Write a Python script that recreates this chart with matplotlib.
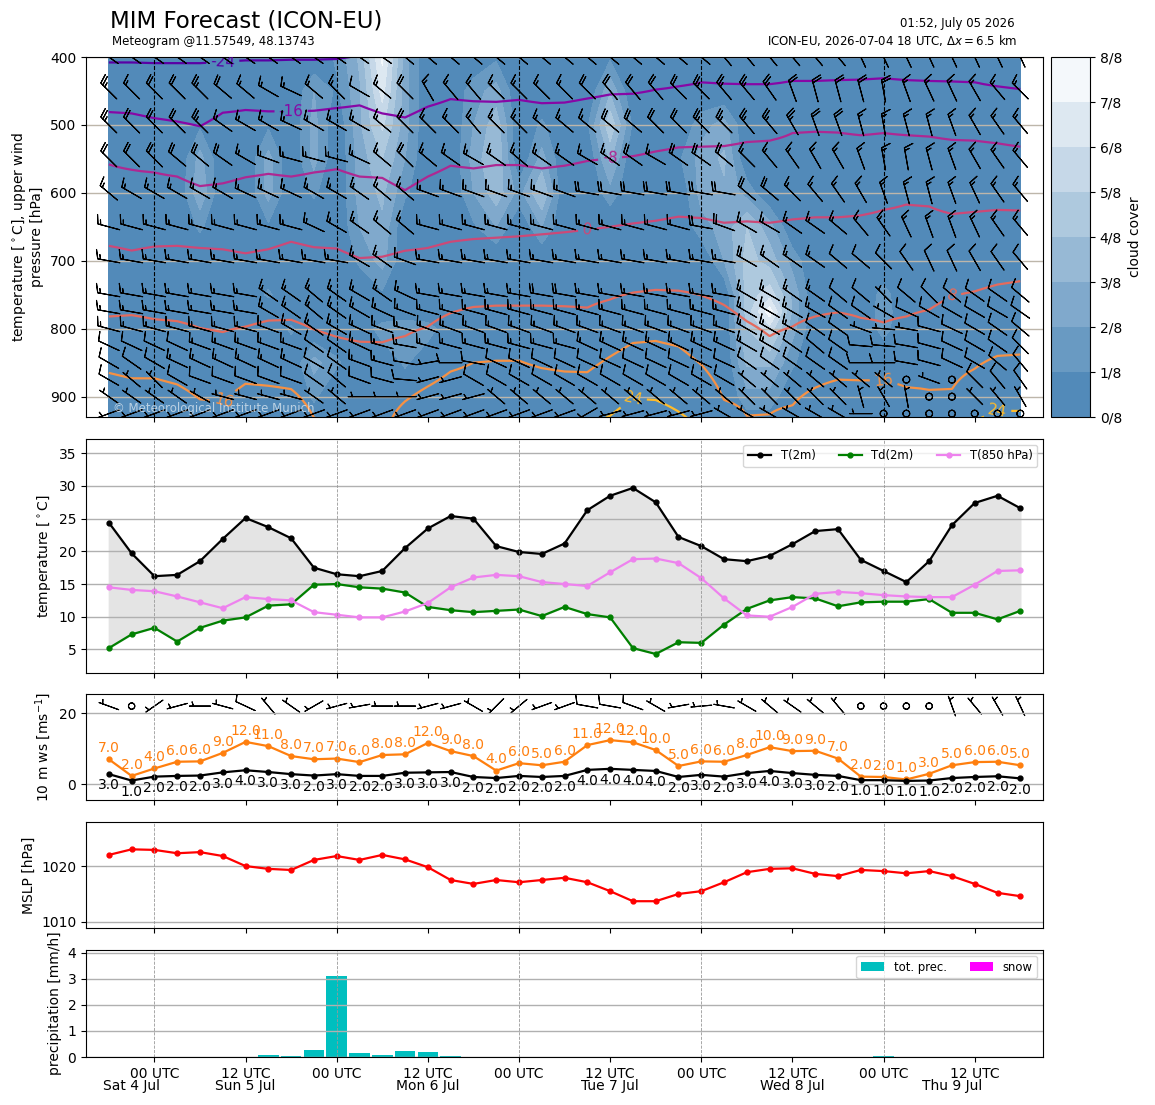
#!/usr/bin/env python3
"""
Meteogram: MIM forecast, ICON-EU
"""

import numpy as np
import matplotlib
matplotlib.use("Agg")
import matplotlib.pyplot as plt
from matplotlib.colors import LinearSegmentedColormap, Normalize

# forecast hours since 2026-07-04 18 UTC, 3-hourly
hours = np.arange(0, 121, 3)

# ---- surface series ----
t2m = [24.4, 19.7, 16.2, 16.4, 18.5, 21.9, 25.1, 23.7, 22.0, 17.5,
       16.5, 16.2, 17.0, 20.5, 23.5, 25.4, 25.0, 20.8, 19.9, 19.6,
       21.2, 26.3, 28.5, 29.7, 27.5, 22.2, 20.8, 18.8, 18.5, 19.3,
       21.1, 23.1, 23.4, 18.7, 17.0, 15.3, 18.5, 24.0, 27.4, 28.5, 26.6]
td2m = [5.2, 7.3, 8.3, 6.2, 8.3, 9.4, 9.9, 11.7, 11.9, 14.9,
        15.0, 14.5, 14.3, 13.7, 11.5, 11.0, 10.7, 10.9, 11.1, 10.1,
        11.5, 10.4, 9.9, 5.2, 4.3, 6.1, 6.0, 8.8, 11.2, 12.5,
        13.0, 12.8, 11.6, 12.2, 12.3, 12.3, 12.7, 10.6, 10.6, 9.6, 10.9]
t850 = [14.5, 14.1, 13.9, 13.1, 12.2, 11.3, 13.0, 12.7, 12.5, 10.7,
        10.3, 9.9, 9.9, 10.8, 12.1, 14.5, 16.0, 16.4, 16.2, 15.3,
        15.0, 14.7, 16.8, 18.8, 18.9, 18.2, 15.9, 12.8, 10.2, 10.0,
        11.5, 13.5, 13.8, 13.6, 13.3, 13.1, 13.0, 13.0, 14.9, 17.0, 17.1]
ws10 = [2.8, 1.0, 2.1, 2.3, 2.4, 3.3, 3.9, 3.4, 2.8, 2.4,
        2.8, 2.3, 2.3, 3.2, 3.3, 3.4, 2.0, 1.7, 2.3, 2.0,
        2.3, 4.0, 4.3, 4.0, 3.7, 2.0, 2.6, 2.1, 3.1, 3.7,
        3.1, 2.6, 2.3, 1.1, 1.1, 0.9, 1.0, 1.7, 2.0, 2.2, 1.6]
gust10 = [7.0, 2.3, 4.4, 6.3, 6.4, 8.8, 11.9, 10.7, 7.9, 7.0,
          7.2, 6.2, 8.2, 8.4, 11.6, 9.3, 7.9, 3.8, 5.9, 5.3,
          6.3, 11.0, 12.4, 11.8, 9.6, 5.1, 6.4, 6.3, 8.2, 10.4,
          9.3, 9.4, 7.2, 2.1, 2.0, 1.3, 2.9, 5.3, 6.2, 6.3, 5.3]
dir10 = [290, 0, 235, 255, 270, 285, 295, 320, 305, 240,
         255, 260, 270, 270, 255, 255, 300, 225, 230, 250,
         250, 280, 280, 290, 300, 260, 265, 280, 300, 310,
         305, 310, 320, 0, 0, 0, 0, 340, 320, 330, 335]
mslp = [1022.0, 1023.0, 1022.9, 1022.3, 1022.5, 1021.8, 1020.0, 1019.5, 1019.3, 1021.1,
        1021.8, 1021.1, 1022.0, 1021.2, 1019.8, 1017.5, 1016.8, 1017.5, 1017.1, 1017.5,
        1017.9, 1017.1, 1015.5, 1013.7, 1013.7, 1015.0, 1015.5, 1017.1, 1018.9, 1019.5,
        1019.6, 1018.6, 1018.2, 1019.3, 1019.1, 1018.7, 1019.1, 1018.2, 1016.8, 1015.2, 1014.6]
precip = [0, 0, 0, 0, 0, 0, 0, 0.06, 0.03, 0.26,
          3.10, 0.14, 0.06, 0.22, 0.18, 0.03, 0, 0, 0, 0,
          0, 0, 0, 0, 0, 0, 0, 0, 0, 0,
          0, 0, 0, 0, 0.03, 0, 0, 0, 0, 0, 0]
snow = [0] * 41

# ---- upper air: isotherm pressures [hPa] per time ----
iso_temps = [-24, -16, -8, 0, 8, 16, 24]
p_m24 = [408, 408, 409, 409, 409, 407, 405, 405, 404, 404, 403, 398, 392, 388, 386, 385, 385,
         385, 385, 385, 385, 385, 385, 385, 385, 385, 385, 385, 385, 385, 385, 385, 385, 385,
         385, 385, 385, 385, 385, 385, 385]
p_m16 = [481, 483, 490, 495, 502, 482, 478, 480, 480, 479,
         475, 471, 483, 489, 473, 462, 465, 466, 463, 468,
         467, 461, 455, 454, 448, 443, 437, 439, 440, 440,
         435, 435, 434, 433, 431, 434, 435, 436, 437, 443, 447]
p_m8 = [558, 566, 570, 576, 590, 586, 577, 572, 576, 570,
        565, 576, 578, 596, 576, 560, 564, 559, 559, 564,
        560, 553, 549, 546, 539, 533, 532, 531, 525, 523,
        512, 510, 511, 515, 512, 515, 517, 522, 523, 527, 532]
p_0 = [678, 685, 679, 678, 681, 683, 689, 683, 672, 680,
       682, 696, 694, 685, 681, 672, 668, 666, 664, 661,
       658, 654, 650, 645, 641, 635, 637, 644, 642, 644,
       639, 636, 636, 633, 625, 617, 620, 631, 628, 625, 626]
p_8 = [782, 780, 786, 789, 799, 805, 797, 788, 787, 801,
       812, 819, 820, 811, 797, 777, 768, 766, 766, 766,
       767, 769, 757, 747, 743, 744, 751, 765, 789, 811,
       797, 782, 776, 784, 791, 782, 772, 752, 745, 735, 730]
p_16 = [865, 873, 873, 882, 904, 907, 881, 884, 889, 931,
        960, 975, 973, 907, 885, 863, 850, 847, 847, 858,
        863, 864, 841, 821, 818, 826, 853, 905, 928, 926,
        913, 887, 875, 876, 876, 886, 890, 889, 859, 840, 838]
p_24 = [960, 965, 965, 970, 975, 975, 970, 970, 970, 975,
        990, 1000, 1000, 975, 970, 965, 960, 955, 955, 960,
        955, 945, 928, 903, 905, 922, 950, 965, 975, 975,
        970, 960, 955, 955, 955, 960, 960, 955, 935, 921, 921]

# ---- upper air: cloud cover (time index, level, fraction), zero elsewhere ----
cloud_levels = [400, 450, 500, 550, 600, 650, 700, 750, 775, 800, 850, 900, 950]
cloud_cells = [
    (4, 500, 0.10), (4, 550, 0.30), (4, 600, 0.35), (4, 650, 0.15),
    (7, 500, 0.10), (7, 550, 0.30), (7, 600, 0.30), (7, 650, 0.10), (7, 750, 0.15),
    (8, 800, 0.15),
    (9, 450, 0.25), (9, 500, 0.30), (9, 550, 0.30), (9, 600, 0.15), (9, 850, 0.30), (9, 900, 0.15),
    (10, 400, 0.15), (10, 450, 0.10), (10, 850, 0.15),
    (11, 400, 0.40), (11, 450, 0.35), (11, 500, 0.35), (11, 550, 0.30), (11, 600, 0.30),
    (11, 650, 0.25), (11, 700, 0.15),
    (12, 400, 0.90), (12, 450, 0.80), (12, 500, 0.65), (12, 550, 0.50), (12, 600, 0.40),
    (12, 650, 0.35), (12, 700, 0.30), (12, 750, 0.10), (12, 800, 0.20),
    (13, 400, 0.30), (13, 450, 0.30), (13, 500, 0.30), (13, 550, 0.25), (13, 600, 0.15),
    (13, 800, 0.25), (13, 850, 0.15),
    (14, 800, 0.20),
    (16, 450, 0.20), (16, 500, 0.25), (16, 550, 0.30), (16, 600, 0.25), (16, 650, 0.10),
    (17, 400, 0.10), (17, 450, 0.30), (17, 500, 0.45), (17, 550, 0.50), (17, 600, 0.45), (17, 650, 0.25),
    (18, 600, 0.20),
    (19, 500, 0.15), (19, 550, 0.30), (19, 600, 0.50), (19, 650, 0.25),
    (21, 500, 0.10),
    (22, 400, 0.10), (22, 450, 0.35), (22, 500, 0.60), (22, 550, 0.40), (22, 600, 0.20),
    (23, 500, 0.10),
    (25, 550, 0.10),
    (26, 500, 0.20), (26, 550, 0.30), (26, 600, 0.30), (26, 650, 0.20),
    (27, 500, 0.30), (27, 550, 0.40), (27, 600, 0.35), (27, 650, 0.30), (27, 700, 0.25),
    (28, 600, 0.20), (28, 650, 0.50), (28, 700, 0.55), (28, 750, 0.55), (28, 775, 0.55),
    (28, 800, 0.50), (28, 850, 0.40), (28, 900, 0.20),
    (29, 650, 0.30), (29, 700, 0.45), (29, 750, 0.70), (29, 775, 0.95), (29, 800, 0.70),
    (29, 850, 0.40), (29, 900, 0.20),
    (30, 700, 0.20), (30, 750, 0.35), (30, 775, 0.35), (30, 800, 0.30), (30, 850, 0.15),
    (34, 750, 0.18), (34, 775, 0.20), (34, 800, 0.18),
]

# ---- upper air: wind direction [deg] and speed [kt] per level ----
wind_levels = [400, 450, 500, 550, 600, 650, 700, 750, 775, 800, 825, 850, 875, 900, 925]
wind_dir = [
    [305, 305, 305, 305, 305, 305, 305, 305, 305, 305, 305, 305, 305, 310, 310, 310, 310, 310, 310, 310, 310,
     310, 310, 310, 310, 310, 310, 320, 320, 320, 320, 320, 320, 335, 335, 335, 335, 335, 335, 335, 335],
    [315, 315, 315, 315, 315, 310, 310, 300, 295, 310, 315, 300, 310, 315, 330, 320, 320, 315, 315, 315, 315,
     315, 320, 320, 320, 315, 315, 320, 320, 325, 340, 345, 345, 345, 350, 340, 335, 335, 330, 320, 315],
    [315, 315, 315, 315, 315, 305, 300, 300, 295, 300, 300, 300, 310, 315, 315, 315, 320, 315, 315, 310, 310,
     310, 310, 310, 315, 315, 315, 315, 320, 320, 330, 340, 340, 345, 350, 345, 345, 340, 330, 325, 320],
    [315, 315, 315, 310, 310, 305, 300, 290, 285, 285, 285, 295, 310, 315, 310, 305, 300, 305, 310, 305, 305,
     300, 305, 305, 300, 305, 305, 310, 315, 320, 325, 330, 330, 340, 350, 350, 345, 340, 330, 325, 320],
    [310, 300, 300, 300, 300, 300, 295, 295, 295, 300, 300, 305, 310, 310, 290, 290, 290, 290, 290, 290, 290,
     280, 280, 280, 280, 280, 280, 280, 310, 310, 315, 320, 325, 330, 340, 345, 345, 340, 335, 325, 320],
    [285, 285, 285, 285, 285, 285, 285, 285, 285, 295, 300, 305, 310, 310, 285, 285, 285, 285, 285, 285, 285,
     285, 285, 285, 285, 285, 280, 290, 300, 300, 305, 305, 310, 320, 325, 335, 340, 340, 335, 325, 320],
    [280, 280, 280, 280, 280, 280, 280, 280, 280, 280, 280, 300, 305, 290, 280, 280, 280, 280, 280, 280, 280,
     280, 280, 280, 280, 280, 280, 280, 300, 305, 305, 305, 310, 310, 315, 325, 335, 335, 330, 325, 320],
    [280, 280, 280, 280, 280, 280, 280, 305, 305, 310, 305, 300, 305, 295, 280, 280, 280, 280, 280, 280, 280,
     280, 280, 280, 280, 280, 280, 280, 300, 300, 305, 305, 310, 310, 315, 310, 315, 310, 305, 305, 310],
    [280, 280, 280, 280, 280, 280, 280, 300, 305, 310, 305, 300, 295, 290, 285, 285, 285, 285, 285, 285, 285,
     285, 285, 285, 285, 285, 285, 285, 300, 300, 300, 300, 305, 305, 300, 295, 300, 300, 300, 300, 305],
    [285, 285, 285, 285, 285, 285, 285, 290, 300, 305, 300, 295, 290, 285, 290, 290, 290, 290, 290, 290, 290,
     290, 290, 290, 290, 290, 290, 290, 300, 300, 300, 305, 305, 290, 275, 280, 285, 295, 300, 305, 310],
    [295, 295, 295, 295, 290, 290, 290, 290, 290, 305, 305, 295, 285, 280, 285, 285, 285, 285, 285, 285, 285,
     295, 295, 295, 295, 295, 295, 295, 300, 300, 305, 310, 305, 275, 275, 280, 285, 295, 300, 305, 315],
    [300, 305, 300, 295, 295, 295, 295, 295, 295, 300, 305, 290, 285, 280, 260, 270, 280, 295, 295, 295, 295,
     295, 295, 295, 295, 295, 295, 295, 305, 305, 305, 305, 305, 270, 270, 280, 285, 295, 300, 310, 320],
    [300, 310, 315, 300, 290, 290, 290, 290, 290, 305, 310, 290, 285, 275, 255, 255, 300, 300, 300, 300, 300,
     300, 300, 300, 300, 300, 300, 300, 310, 310, 310, 310, 310, 310, 310, 0, 290, 0, 315, 320, 325],
    [305, 305, 305, 305, 300, 285, 285, 285, 285, 305, 310, 270, 270, 270, 255, 255, 255, 310, 310, 310, 310,
     310, 310, 310, 310, 310, 310, 310, 315, 315, 315, 315, 315, 345, 330, 350, 0, 0, 315, 320, 330],
    [250, 250, 250, 250, 250, 250, 250, 250, 250, 250, 250, 250, 250, 250, 250, 250, 250, 250, 250, 250, 250,
     240, 255, 255, 255, 255, 255, 300, 300, 300, 300, 300, 300, 270, 0, 0, 0, 0, 0, 0, 0],
]
wind_spd = [
    [25, 25, 25, 25, 25, 25, 25, 25, 25, 20, 20, 20, 20, 20, 20, 20, 20, 20, 20, 20, 20,
     25, 25, 25, 25, 25, 25, 25, 25, 25, 25, 25, 25, 25, 25, 25, 20, 20, 20, 20, 20],
    [25, 15, 20, 20, 25, 20, 15, 15, 15, 15, 15, 10, 15, 20, 15, 15, 15, 15, 15, 15, 15,
     20, 20, 20, 20, 20, 25, 25, 25, 25, 20, 20, 20, 20, 20, 15, 15, 15, 15, 15, 15],
    [25, 20, 20, 20, 25, 15, 15, 15, 15, 15, 15, 15, 15, 20, 15, 15, 15, 15, 15, 15, 15,
     15, 20, 20, 20, 20, 25, 25, 25, 25, 25, 20, 20, 15, 15, 15, 15, 15, 15, 15, 15],
    [20, 20, 20, 20, 20, 20, 15, 15, 15, 15, 15, 15, 15, 20, 15, 15, 15, 15, 15, 15, 15,
     15, 15, 20, 15, 20, 20, 20, 15, 15, 15, 15, 15, 15, 15, 15, 15, 15, 15, 15, 15],
    [15, 15, 15, 15, 15, 15, 15, 15, 15, 15, 15, 15, 15, 15, 15, 15, 15, 15, 15, 15, 15,
     20, 20, 20, 20, 20, 20, 20, 20, 20, 15, 15, 15, 15, 15, 15, 15, 15, 15, 15, 15],
    [15, 15, 15, 15, 15, 15, 15, 15, 15, 15, 15, 15, 15, 15, 15, 15, 15, 15, 15, 15, 15,
     15, 15, 15, 15, 15, 20, 20, 15, 15, 15, 15, 15, 15, 15, 15, 15, 15, 15, 15, 15],
    [15, 15, 15, 15, 15, 15, 15, 15, 15, 15, 15, 15, 15, 15, 15, 15, 15, 15, 15, 15, 15,
     15, 15, 15, 15, 15, 15, 15, 20, 15, 15, 15, 10, 10, 10, 10, 10, 10, 10, 10, 10],
    [15, 15, 15, 15, 15, 15, 15, 15, 15, 15, 15, 15, 15, 15, 15, 15, 15, 15, 15, 20, 20,
     15, 15, 15, 15, 15, 15, 15, 15, 15, 15, 15, 10, 10, 5, 10, 10, 10, 10, 10, 10],
    [15, 15, 15, 15, 15, 15, 15, 15, 15, 15, 15, 15, 15, 15, 15, 15, 15, 15, 15, 15, 15,
     15, 15, 15, 15, 15, 15, 15, 15, 15, 15, 15, 10, 10, 5, 10, 10, 10, 10, 10, 10],
    [15, 15, 15, 15, 15, 15, 15, 15, 15, 15, 15, 15, 15, 15, 15, 15, 15, 15, 15, 15, 15,
     15, 15, 15, 15, 15, 15, 15, 15, 15, 15, 10, 10, 5, 5, 5, 10, 10, 10, 10, 10],
    [10, 10, 10, 10, 15, 15, 15, 15, 15, 10, 10, 15, 15, 15, 15, 15, 15, 15, 15, 15, 15,
     15, 15, 15, 15, 15, 15, 15, 15, 15, 10, 10, 10, 10, 10, 10, 10, 10, 10, 10, 10],
    [10, 10, 10, 15, 15, 15, 15, 15, 15, 10, 10, 15, 15, 10, 5, 10, 10, 10, 10, 10, 10,
     10, 10, 10, 10, 10, 10, 10, 10, 10, 10, 10, 10, 10, 10, 10, 10, 10, 10, 10, 10],
    [10, 5, 5, 10, 10, 10, 10, 10, 10, 10, 10, 10, 10, 10, 5, 5, 10, 10, 10, 10, 10,
     10, 10, 10, 10, 10, 10, 10, 5, 5, 5, 5, 5, 5, 5, 0, 5, 0, 10, 10, 10],
    [5, 5, 5, 5, 5, 5, 5, 5, 5, 5, 5, 5, 5, 5, 5, 5, 5, 5, 5, 5, 5,
     5, 5, 5, 5, 5, 5, 5, 5, 5, 5, 5, 5, 5, 5, 5, 0, 0, 5, 5, 5],
    [5, 5, 5, 5, 5, 5, 5, 5, 5, 5, 5, 5, 5, 5, 5, 5, 5, 5, 5, 5, 5,
     5, 5, 5, 5, 5, 5, 5, 5, 5, 5, 5, 5, 5, 0, 0, 0, 0, 0, 0, 0],
]

# ---- axis labels ----
time_ticks = [6, 18, 30, 42, 54, 66, 78, 90, 102, 114]
time_labels = ['00 UTC', '12 UTC'] * 5
day_ticks = [3, 18, 42, 66, 90, 111]
day_labels = ['Sat 4 Jul', 'Sun 5 Jul', 'Mon 6 Jul', 'Tue 7 Jul', 'Wed 8 Jul', 'Thu 9 Jul']
midnights = [6, 30, 54, 78, 102]
label_pos = [(15, 407), (24, 481), (66, 551), (63, 653), (111, 752),
             (15, 904), (102, 878), (69, 901), (117, 922)]


def make_meteogram():
    fig = plt.figure(figsize=(11.55, 11.05), dpi=100)
    left, width = 0.0745, 0.8286
    ax1 = fig.add_axes([left, 0.6226, width, 0.3258])
    ax2 = fig.add_axes([left, 0.3910, width, 0.2118], sharex=ax1)
    ax3 = fig.add_axes([left, 0.2760, width, 0.0959], sharex=ax1)
    ax4 = fig.add_axes([left, 0.1602, width, 0.0959], sharex=ax1)
    ax5 = fig.add_axes([left, 0.0434, width, 0.0968], sharex=ax1)
    cax = fig.add_axes([0.9100, 0.6226, 0.0338, 0.3258])

    # === upper air ===
    cloud = np.zeros((len(cloud_levels), len(hours)))
    for i, lev, val in cloud_cells:
        cloud[cloud_levels.index(lev), i] = val
    cmap = LinearSegmentedColormap.from_list('cc', ['steelblue', 'white'])
    cf = ax1.contourf(hours, cloud_levels, cloud, levels=np.linspace(0, 1, 9), cmap=cmap)

    pgrid = np.arange(360, 1041, 2)
    iso_p = np.array([p_m24, p_m16, p_m8, p_0, p_8, p_16, p_24], dtype=float)
    tfield = np.zeros((len(pgrid), len(hours)))
    for j in range(len(hours)):
        xp = np.concatenate([[iso_p[0, j] - 80], iso_p[:, j], [iso_p[-1, j] + 80]])
        fp = np.concatenate([[-32], iso_temps, [32]])
        tfield[:, j] = np.interp(pgrid, xp, fp)
    norm = Normalize(-35, 34)
    line_colors = [plt.cm.plasma(norm(t)) for t in iso_temps]
    cs = ax1.contour(hours, pgrid, tfield, levels=iso_temps, colors=line_colors, linewidths=1.6)
    ax1.clabel(cs, fmt='%d', fontsize=11, inline=True, manual=label_pos)

    tt, pp = np.meshgrid(hours, wind_levels)
    wd = np.radians(np.array(wind_dir, dtype=float))
    wsp = np.array(wind_spd, dtype=float)
    ax1.barbs(tt, pp, -wsp * np.sin(wd), -wsp * np.cos(wd), length=5.7, pivot='middle',
              linewidth=0.8, color='black', zorder=4)

    ax1.set_ylim(930, 400)
    ax1.set_yticks([400, 500, 600, 700, 800, 900])
    ax1.grid(axis='y', color='#bdb6aa', linewidth=1)
    for m in midnights:
        ax1.axvline(m, color='black', linestyle='--', linewidth=0.8, zorder=3)
    ax1.set_ylabel('temperature [$^\\circ$C], upper wind\npressure [hPa]')
    ax1.text(0.028, 0.005, '\u00a9 Meteorological Institute Munich', transform=ax1.transAxes,
             color='white', alpha=0.6, fontsize=8.5, ha='left', va='bottom', zorder=5)

    cb = fig.colorbar(cf, cax=cax, ticks=np.linspace(0, 1, 9))
    cb.ax.set_yticklabels(['%d/8' % k for k in range(9)])
    cb.set_label('cloud cover')

    # === 2 m temperatures ===
    ax2.fill_between(hours, t2m, td2m, color='#e4e4e4', zorder=1)
    ax2.plot(hours, t2m, '-o', color='black', lw=1.6, ms=3.5, label='T(2m)')
    ax2.plot(hours, td2m, '-o', color='green', lw=1.6, ms=3.5, label='Td(2m)')
    ax2.plot(hours, t850, '-o', color='violet', lw=1.6, ms=3.5, label='T(850 hPa)')
    ax2.set_ylim(1.4, 37.2)
    ax2.set_yticks([5, 10, 15, 20, 25, 30, 35])
    ax2.set_ylabel('temperature [$^\\circ$C]')
    ax2.legend(loc='upper right', ncol=3, fontsize=8.4)

    # === 10 m wind ===
    ax3.plot(hours, gust10, '-o', color='tab:orange', lw=1.6, ms=3.5)
    ax3.plot(hours, ws10, '-o', color='black', lw=1.6, ms=3.5)
    for t, g, w in zip(hours, gust10, ws10):
        ax3.annotate('%.1f' % round(g), (t, g), xytext=(0, 3), textcoords='offset points',
                     ha='center', va='bottom', color='tab:orange', fontsize=10)
        ax3.annotate('%.1f' % round(w), (t, w), xytext=(0, -3), textcoords='offset points',
                     ha='center', va='top', color='black', fontsize=10)
    d10 = np.radians(np.array(dir10, dtype=float))
    kt10 = np.array(ws10) * 1.944
    ax3.barbs(hours, np.full(len(hours), 22.0), -kt10 * np.sin(d10), -kt10 * np.cos(d10),
              length=5.5, pivot='middle', linewidth=0.8, color='black')
    ax3.set_ylim(-4.5, 25.4)
    ax3.set_yticks([0, 20])
    ax3.set_ylabel('10 m ws [ms$^{-1}$]')

    # === MSLP ===
    ax4.plot(hours, mslp, '-o', color='red', lw=1.6, ms=3.5)
    ax4.set_ylim(1008.9, 1027.9)
    ax4.set_yticks([1010, 1020])
    ax4.set_ylabel('MSLP [hPa]')

    # === precipitation ===
    ax5.bar(hours, precip, width=2.7, color='c', label='tot. prec.')
    ax5.bar(hours, snow, width=2.7, color='magenta', label='snow')
    ax5.set_ylim(0, 4.1)
    ax5.set_yticks([0, 1, 2, 3, 4])
    ax5.set_ylabel('precipitation [mm/h]')
    ax5.legend(loc='upper right', ncol=2, fontsize=8.4)

    for ax in (ax2, ax3, ax4, ax5):
        ax.grid(axis='y', color='#b0b0b0', linewidth=1)
        for m in midnights:
            ax.axvline(m, color='#999999', linestyle='--', linewidth=0.6)

    ax1.set_xlim(-3, 123)
    ax1.set_xticks(time_ticks)
    ax1.set_xticklabels(time_labels)
    for ax in (ax1, ax2, ax3, ax4):
        ax.tick_params(axis='x', labelbottom=False)
    for t, d in zip(day_ticks, day_labels):
        ax5.text(t, -0.275, d, transform=ax5.get_xaxis_transform(), ha='center', va='center',
                 fontsize=10)

    # === header ===
    fig.text(110 / 1155, 1 - 21 / 1105, 'MIM Forecast (ICON-EU)', fontsize=16.5, va='center')
    fig.text(112 / 1155, 1 - 41 / 1105, 'Meteogram @11.57549, 48.13743', fontsize=8.5, va='center')
    fig.text(1015 / 1155, 1 - 23 / 1105, '01:52, July 05 2026', fontsize=8.5, va='center', ha='right')
    fig.text(1018 / 1155, 1 - 41 / 1105, 'ICON-EU, 2026-07-04 18 UTC, $\\Delta x = 6.5$ km',
             fontsize=8.5, va='center', ha='right')

    fig.savefig('out.png', dpi=100)


if __name__ == "__main__":
    make_meteogram()
